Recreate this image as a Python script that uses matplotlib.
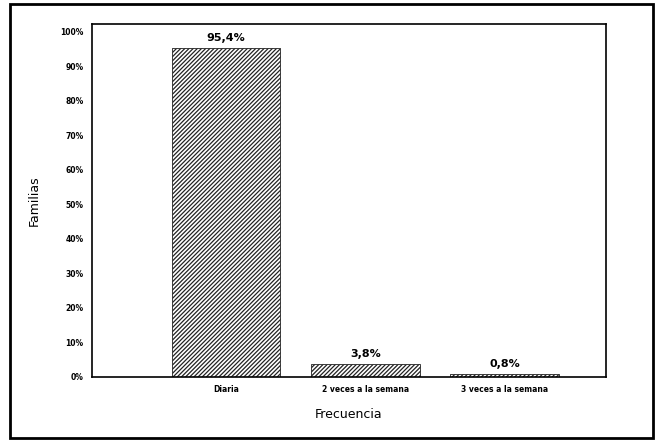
import matplotlib
matplotlib.use("Agg")
import matplotlib.pyplot as plt
from matplotlib.patches import Rectangle

categories = ["Diaria", "2 veces a la semana", "3 veces a la semana"]
values = [95.4, 3.8, 0.8]
value_labels = ["95,4%", "3,8%", "0,8%"]
yticks = [0, 10, 20, 30, 40, 50, 60, 70, 80, 90, 100]

plt.rcParams['hatch.linewidth'] = 0.9
fig = plt.figure(figsize=(6.55, 4.42), dpi=100)
fig.patches.append(Rectangle((10/655, 4/442), 643/655, 434/442, transform=fig.transFigure,
                             fill=False, edgecolor='black', linewidth=2))
ax = fig.add_axes([92/655, (442-377)/442, (606-92)/655, (377-24)/442])

x = list(range(len(categories)))
bars = ax.bar(x, values, width=0.78, facecolor='white', edgecolor='#222222',
              hatch='////////', linewidth=0.6)
for xi, v, lab in zip(x, values, value_labels):
    ax.text(xi, v + 1.5, lab, ha='center', va='bottom', fontsize=8, fontweight='bold')

ax.set_xlim(-0.965, 2.73)
ax.set_ylim(0, 102.3)
ax.set_yticks(yticks)
ax.set_yticklabels([f"{t}%" for t in yticks], fontsize=5.5, fontweight='bold')
ax.set_xticks(x)
ax.set_xticklabels(categories, fontsize=5.5, fontweight='bold')
ax.tick_params(length=0, pad=6)
ax.set_ylabel("Familias", fontsize=9, labelpad=14)
ax.set_xlabel("Frecuencia", fontsize=9, labelpad=10)
for s in ax.spines.values():
    s.set_linewidth(1.2)

fig.savefig("out.png", dpi=100)
